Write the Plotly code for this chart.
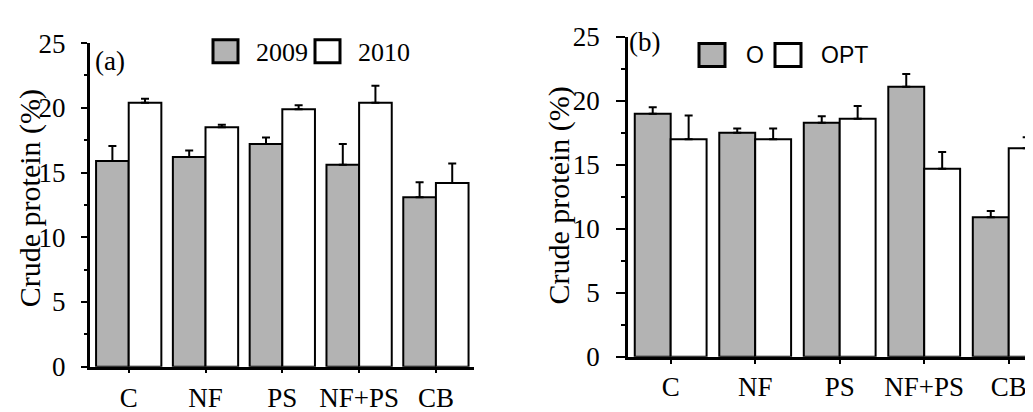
import plotly.graph_objects as go

W, H = 1033, 412

# ---------------- data ----------------
categories = ["C", "NF", "PS", "NF+PS", "CB"]

# Panel (a): years
year_names = ["2009", "2010"]
cp_2009 = [15.9, 16.2, 17.2, 15.6, 13.1]
cp_2009_err = [1.15, 0.5, 0.5, 1.6, 1.15]
cp_2010 = [20.4, 18.5, 19.9, 20.4, 14.2]
cp_2010_err = [0.3, 0.2, 0.3, 1.3, 1.5]

# Panel (b): systems
system_names = ["O", "OPT"]
cp_O = [19.0, 17.5, 18.3, 21.1, 10.9]
cp_O_err = [0.5, 0.35, 0.5, 1.0, 0.5]
cp_OPT = [17.0, 17.0, 18.6, 14.7, 16.3]
cp_OPT_err = [1.85, 0.85, 1.0, 1.3, 0.85]

y_ticks = [0, 5, 10, 15, 20, 25]
y_title = "Crude protein (%)"
panel_labels = ["(a)", "(b)"]

# ---------------- style ----------------
SERIF = "Liberation Serif, Times New Roman, serif"
SANS = "Liberation Sans, Arial, sans-serif"
GRAY = "#b3b3b3"
WHITE = "#ffffff"
fills = [GRAY, WHITE]


def px_x(x):
    return x / W


def px_y(y):
    return 1 - y / H


fig = go.Figure()


def add_bar(name, vals, errs, fill, xa, ya):
    fig.add_trace(go.Bar(
        x=categories, y=vals, name=name,
        marker=dict(color=fill, line=dict(color="black", width=2)),
        error_y=dict(type="data", array=errs, arrayminus=[0] * len(errs),
                     symmetric=False, color="black", thickness=2, width=4),
        xaxis=xa, yaxis=ya, showlegend=False,
    ))


add_bar(year_names[0], cp_2009, cp_2009_err, GRAY, "x", "y")
add_bar(year_names[1], cp_2010, cp_2010_err, WHITE, "x", "y")
add_bar(system_names[0], cp_O, cp_O_err, GRAY, "x2", "y2")
add_bar(system_names[1], cp_OPT, cp_OPT_err, WHITE, "x2", "y2")

xcommon = dict(type="category", showline=True, linecolor="black", linewidth=2.5,
               ticks="outside", ticklen=4, tickwidth=2, tickcolor="black",
               showgrid=False, zeroline=False,
               tickfont=dict(family=SERIF, size=27, color="black"))
ycommon = dict(range=[0, 25], tickvals=y_ticks, showline=True, linecolor="black",
               linewidth=2.5, ticks="outside", tickwidth=2, tickcolor="black",
               showgrid=False, zeroline=False,
               tickfont=dict(family=SERIF, size=27, color="black"))

fig.update_layout(
    width=W, height=H,
    margin=dict(l=0, r=0, t=0, b=0),
    paper_bgcolor="white", plot_bgcolor="white",
    barmode="group", bargap=0.15, bargroupgap=0,
    xaxis=dict(**xcommon, domain=[px_x(81.7), px_x(466)], range=[-0.508, 4.496],
               anchor="y", ticklabelstandoff=1),
    yaxis=dict(**ycommon, domain=[px_y(370.7), px_y(21.7)], anchor="x", ticklen=6,
               ticklabelstandoff=10,
               minor=dict(dtick=2.5, ticks="outside", ticklen=3, tickwidth=2,
                          tickcolor="black", showgrid=False)),
    xaxis2=dict(**xcommon, domain=[px_x(620), 1.0], range=[-0.505, 4.382],
                anchor="y2", ticklabelstandoff=0),
    yaxis2=dict(**ycommon, domain=[px_y(360), px_y(15)], anchor="x2", ticklen=9,
                ticklabelstandoff=11,
                minor=dict(dtick=2.5, ticks="outside", ticklen=4, tickwidth=2,
                           tickcolor="black", showgrid=False)),
)

annotations = []
shapes = []

# y-axis titles
for xc, yc in [(22, 189), (551, 186)]:
    annotations.append(dict(text=y_title, x=px_x(xc), y=px_y(yc), xref="paper", yref="paper",
                            textangle=-90, showarrow=False, xanchor="center", yanchor="middle",
                            font=dict(family=SERIF, size=30, color="black")))

# panel labels
for lab, xl, yc in [(panel_labels[0], 85, 41), (panel_labels[1], 619, 20)]:
    annotations.append(dict(text=lab, x=px_x(xl), y=px_y(yc), xref="paper", yref="paper",
                            showarrow=False, xanchor="left", yanchor="middle",
                            font=dict(family=SERIF, size=27, color="black")))

# custom legends (big squares with thick borders)
legend_a = [(205, 230, 18, 43, 246, year_names[0]), (307, 332, 18, 43, 348, year_names[1])]
legend_b = [(691, 717, 22, 47, 736, system_names[0]), (767, 793, 22, 47, 811, system_names[1])]
for items, fam, fsize, ty in [(legend_a, SERIF, 26, 32), (legend_b, SANS, 23, 34)]:
    for i, (x0, x1, y0, y1, tx, name) in enumerate(items):
        shapes.append(dict(type="rect", xref="paper", yref="paper",
                           x0=px_x(x0), x1=px_x(x1), y0=px_y(y1), y1=px_y(y0),
                           fillcolor=fills[i], line=dict(color="black", width=3)))
        annotations.append(dict(text=name, x=px_x(tx), y=px_y(ty), xref="paper", yref="paper",
                                showarrow=False, xanchor="left", yanchor="middle",
                                font=dict(family=fam, size=fsize, color="black")))

fig.update_layout(annotations=annotations, shapes=shapes)

fig.write_html("out.html")
